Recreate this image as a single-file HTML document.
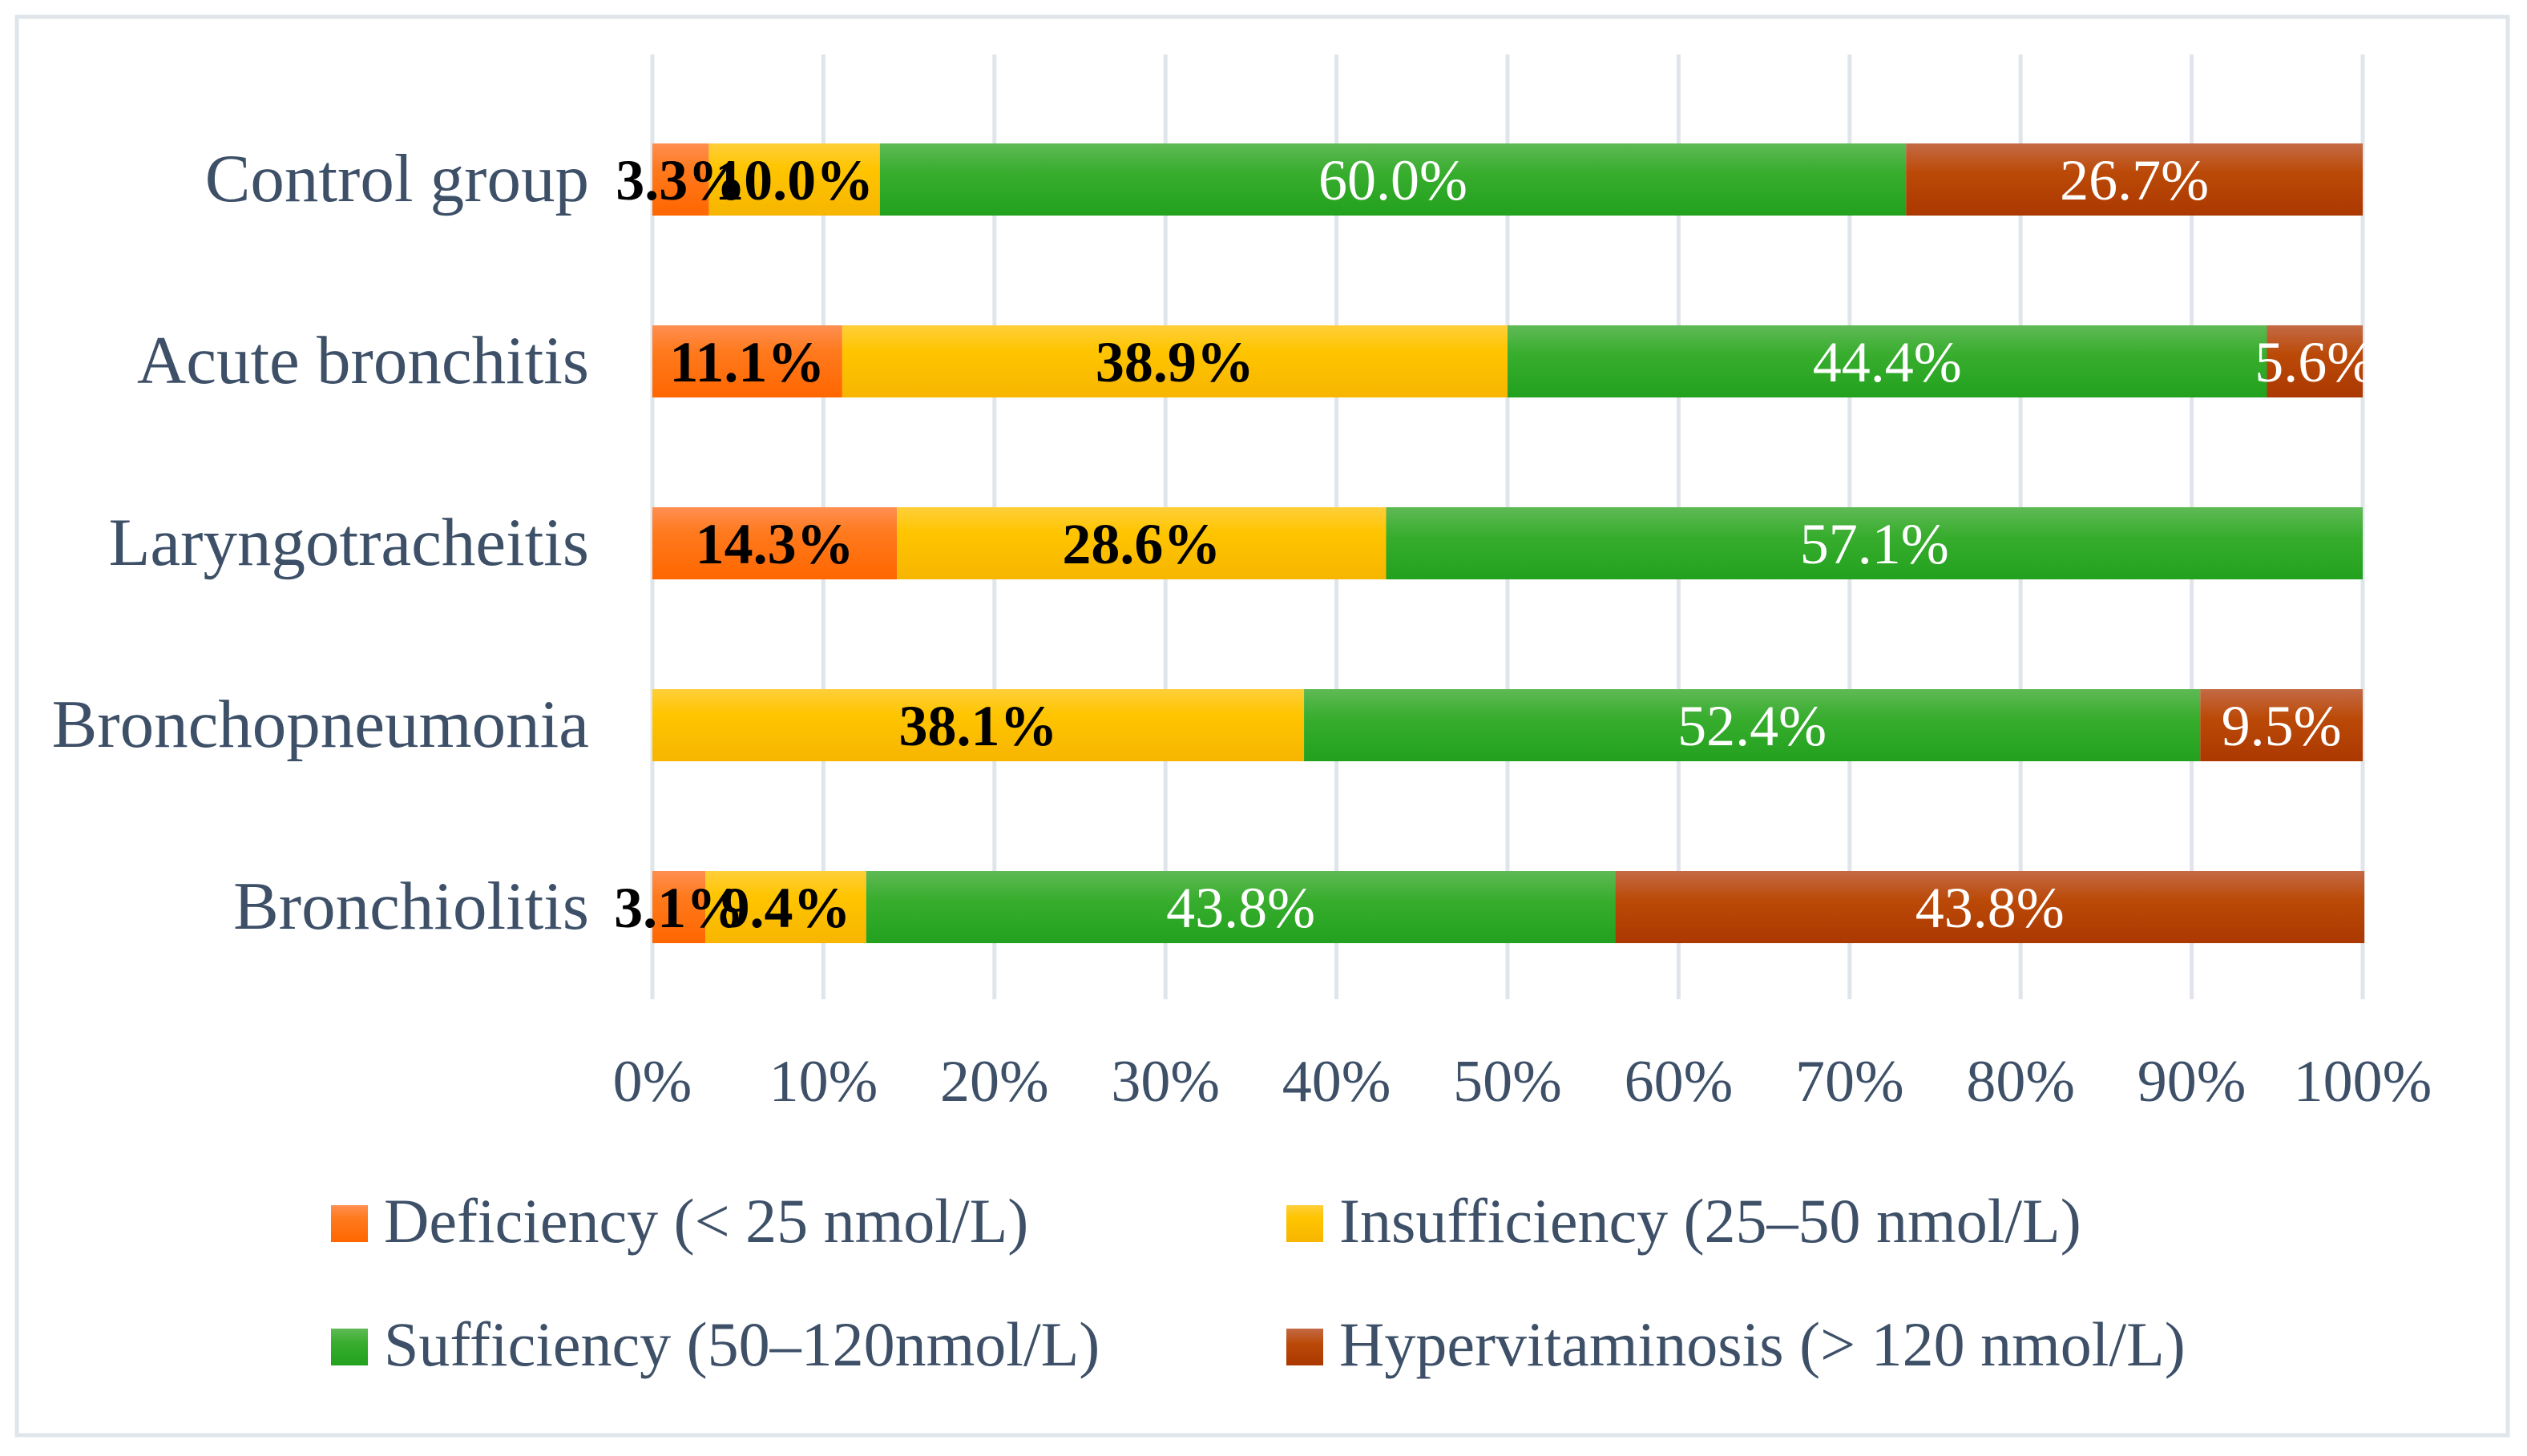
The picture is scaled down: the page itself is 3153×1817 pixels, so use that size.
<!DOCTYPE html>
<html><head><meta charset="utf-8"><style>
html,body{margin:0;padding:0;background:#fff;}
svg text{font-family:"Liberation Serif",serif;}
</style></head><body>
<svg id="chart" width="3153" height="1812" viewBox="0 0 3153 1812" xmlns="http://www.w3.org/2000/svg">
<defs>
<linearGradient id="gDef" x1="0" y1="0" x2="0" y2="1"><stop offset="0" stop-color="#ff8f52"/><stop offset="0.35" stop-color="#ff7a1e"/><stop offset="1" stop-color="#ff6600"/></linearGradient>
<linearGradient id="gIns" x1="0" y1="0" x2="0" y2="1"><stop offset="0" stop-color="#ffcf3a"/><stop offset="0.35" stop-color="#ffc500"/><stop offset="1" stop-color="#f7b500"/></linearGradient>
<linearGradient id="gSuf" x1="0" y1="0" x2="0" y2="1"><stop offset="0" stop-color="#5fba55"/><stop offset="0.4" stop-color="#38ad2e"/><stop offset="1" stop-color="#22a11e"/></linearGradient>
<linearGradient id="gHyp" x1="0" y1="0" x2="0" y2="1"><stop offset="0" stop-color="#c46a45"/><stop offset="0.4" stop-color="#bb4a08"/><stop offset="1" stop-color="#ab3800"/></linearGradient>
</defs>
<rect x="21" y="21" width="3108" height="1770" fill="#fff" stroke="#dfe5ea" stroke-width="5"/>
<g id="grid"></g>
<g id="bars"></g>
<g id="labels"></g>
<g id="ticks"></g>
<g id="cats"></g>
<g id="legend"></g>
</svg>
<script>
const categories = ["Control group","Acute bronchitis","Laryngotracheitis","Bronchopneumonia","Bronchiolitis"];
const deficiency = [3.3, 11.1, 14.3, 0, 3.1];
const insufficiency = [10.0, 38.9, 28.6, 38.1, 9.4];
const sufficiency = [60.0, 44.4, 57.1, 52.4, 43.8];
const hypervitaminosis = [26.7, 5.6, 0, 9.5, 43.8];
const tickValues = [0,10,20,30,40,50,60,70,80,90,100];
const seriesNames = ["Deficiency (< 25 nmol/L)","Insufficiency (25–50 nmol/L)","Sufficiency (50–120nmol/L)","Hypervitaminosis (> 120 nmol/L)"];

const NS="http://www.w3.org/2000/svg";
const X0=814, X1=2948, GT=68, GB=1247, Y0=224, DY=227, BH=90;
const xs=v=>X0+(X1-X0)*v/100;
const ys=i=>Y0+DY*i;
function mk(tag,attrs,parent){const e=document.createElementNS(NS,tag);for(const k in attrs)e.setAttribute(k,attrs[k]);parent.appendChild(e);return e;}
const grid=document.getElementById('grid'),bars=document.getElementById('bars'),labels=document.getElementById('labels'),ticks=document.getElementById('ticks'),cats=document.getElementById('cats'),legend=document.getElementById('legend');

tickValues.forEach(t=>{
  const l=mk('line',{x1:xs(t),x2:xs(t),y1:GT,y2:GB,stroke:'#dfe5ea','stroke-width':5},grid);
  
  
  const tx=mk('text',{x:xs(t),y:1374,'text-anchor':'middle','font-size':74,fill:'#3d5068'},ticks);
  tx.textContent=t+'%';
  
  
});

const series=[deficiency,insufficiency,sufficiency,hypervitaminosis];
const fills=['url(#gDef)','url(#gIns)','url(#gSuf)','url(#gHyp)'];
const keys=['deficiency','insufficiency','sufficiency','hypervitaminosis'];
categories.forEach((c,i)=>{
  const cy=ys(i);
  const ct=mk('text',{x:735,y:cy+27,'text-anchor':'end','font-size':85,fill:'#3d5068'},cats);
  ct.textContent=c;
  
  
  let acc=0;
  series.forEach((s,k)=>{
    const v=s[i];
    if(v>0){
      const r=mk('rect',{x:xs(acc),y:cy-BH/2,width:xs(acc+v)-xs(acc),height:BH,fill:fills[k]},bars);
      
      
      const t=mk('text',{x:(xs(acc)+xs(acc+v))/2,y:cy+25,'text-anchor':'middle','font-size':72,fill:k<2?'#000':'#fff','font-weight':k<2?'bold':'normal'},labels);
      t.textContent=v.toFixed(1)+'%';
      
      
    }
    acc+=v;
  });
});

const lpos=[[413,1504],[1605,1504],[413,1658],[1605,1658]];
seriesNames.forEach((n,k)=>{
  const g=mk('g',{},legend);
  
  
  mk('rect',{x:lpos[k][0],y:lpos[k][1],width:46,height:46,fill:fills[k]},g);
  const t=mk('text',{x:lpos[k][0]+66,y:lpos[k][1]+46,'font-size':78,fill:'#3d5068'},g);
  t.textContent=n;
});
</script>
</body></html>
